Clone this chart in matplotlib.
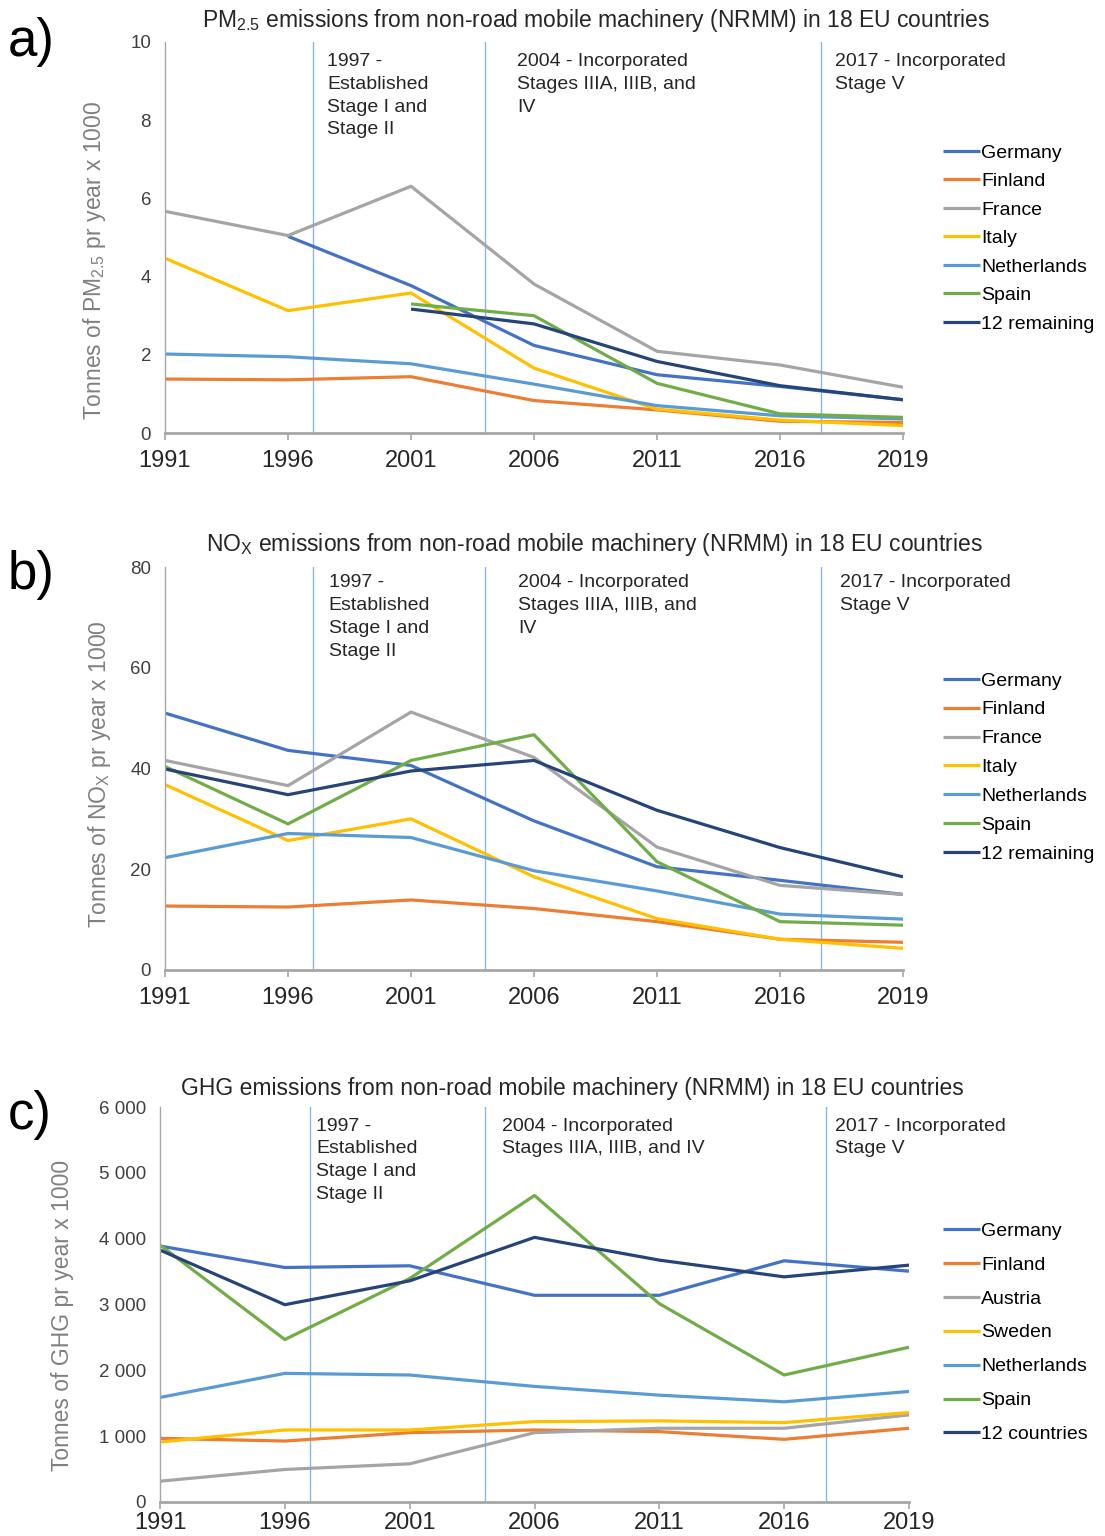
import numpy as np
import matplotlib.pyplot as plt

plt.rcParams['font.family'] = ['Liberation Sans', 'DejaVu Sans']
plt.rcParams['mathtext.default'] = 'regular'

nan = np.nan
years = [1991, 1996, 2001, 2006, 2011, 2016, 2019]
year_labels = ['1991', '1996', '2001', '2006', '2011', '2016', '2019']

# panel a) PM2.5, tonnes x 1000
pm_names = ['Germany', 'Finland', 'France', 'Italy', 'Netherlands', 'Spain', '12 remaining']
pm_germany = [nan, 5.03, 3.77, 2.24, 1.49, 1.19, 0.85]
pm_finland = [1.38, 1.36, 1.44, 0.83, 0.59, 0.30, 0.27]
pm_france = [5.67, 5.05, 6.31, 3.81, 2.09, 1.74, 1.17]
pm_italy = [4.47, 3.13, 3.58, 1.66, 0.61, 0.33, 0.19]
pm_netherlands = [2.02, 1.95, 1.77, 1.25, 0.70, 0.44, 0.36]
pm_spain = [nan, nan, 3.30, 3.00, 1.27, 0.49, 0.40]
pm_remaining = [nan, nan, 3.17, 2.79, 1.83, 1.21, 0.85]

# panel b) NOx, tonnes x 1000
nox_names = ['Germany', 'Finland', 'France', 'Italy', 'Netherlands', 'Spain', '12 remaining']
nox_germany = [51.0, 43.6, 40.6, 29.6, 20.5, 17.8, 15.0]
nox_finland = [12.7, 12.5, 13.9, 12.2, 9.6, 6.1, 5.5]
nox_france = [41.6, 36.6, 51.2, 42.2, 24.4, 16.8, 15.0]
nox_italy = [36.8, 25.7, 30.0, 18.5, 10.2, 6.1, 4.3]
nox_netherlands = [22.3, 27.1, 26.3, 19.7, 15.7, 11.1, 10.1]
nox_spain = [40.4, 29.0, 41.6, 46.7, 21.5, 9.6, 8.9]
nox_remaining = [39.9, 34.8, 39.5, 41.6, 31.7, 24.3, 18.5]

# panel c) GHG, tonnes x 1000
ghg_names = ['Germany', 'Finland', 'Austria', 'Sweden', 'Netherlands', 'Spain', '12 countries']
ghg_germany = [3888, 3562, 3588, 3140, 3140, 3664, 3506]
ghg_finland = [967, 926, 1053, 1094, 1069, 952, 1120]
ghg_austria = [316, 494, 580, 1053, 1120, 1120, 1323]
ghg_sweden = [911, 1094, 1094, 1221, 1232, 1206, 1359]
ghg_netherlands = [1588, 1954, 1929, 1756, 1623, 1522, 1679]
ghg_spain = [3903, 2468, 3394, 4656, 3013, 1929, 2351]
ghg_countries = [3827, 2997, 3359, 4020, 3674, 3420, 3598]

event_years = [1997, 2004, 2017]
event_texts = ['1997 -\nEstablished\nStage I and\nStage II',
               '2004 - Incorporated\nStages IIIA, IIIB, and\nIV',
               '2017 - Incorporated\nStage V']
event_texts_c = ['1997 -\nEstablished\nStage I and\nStage II',
                 '2004 - Incorporated\nStages IIIA, IIIB, and IV',
                 '2017 - Incorporated\nStage V']

colors = ['#4472c4', '#ed7d31', '#a5a5a5', '#ffc000', '#5b9bd5', '#70ad47', '#264478']

fig = plt.figure(figsize=(11.05, 15.36), dpi=100)
W, H = 1105, 1536


def px_axes(left, right, top, bottom):
    return fig.add_axes([left / W, 1 - bottom / H, (right - left) / W, (bottom - top) / H])


def draw_panel(ax, series, names, ymax, ystep, yfmt, texts, text_x, text_top,
               title, title_x, title_y, ylabel, ylabel_x, ylabel_y, letter, letter_y,
               leg_top, leg_space, xpad=7):
    x = np.arange(len(years))
    for vals, name, c in zip(series, names, colors):
        ax.plot(x, vals, color=c, lw=2.3, label=name, solid_capstyle='butt')
    for ey in event_years:
        ax.axvline(np.interp(ey, years, x), color='#8eb4e3', lw=1.0, zorder=0)
    for t, tx in zip(texts, text_x):
        ax.text(tx, text_top, t, fontsize=14, color='#262626', va='top', ha='left',
                linespacing=1.45)
    ax.set_xlim(0, 6)
    ax.set_ylim(0, ymax)
    ax.set_xticks(x)
    ax.set_xticklabels(year_labels, fontsize=17, color='#262626')
    yt = np.arange(0, ymax + ystep / 2, ystep)
    ax.set_yticks(yt)
    ax.set_yticklabels([yfmt(v) for v in yt], fontsize=13.5, color='#404040')
    ax.tick_params(axis='x', length=5, width=1.2, color='#a6a6a6', pad=xpad)
    ax.tick_params(axis='y', length=0, pad=10)
    for s in ['top', 'right']:
        ax.spines[s].set_visible(False)
    ax.spines['bottom'].set_color('#a6a6a6')
    ax.spines['bottom'].set_linewidth(2)
    ax.spines['left'].set_color('#a6a6a6')
    ax.spines['left'].set_linewidth(1)
    fig.text(title_x / W, 1 - title_y / H, title, fontsize=16.5, ha='center', va='center',
             color='#262626')
    fig.text(ylabel_x / W, 1 - ylabel_y / H, ylabel, fontsize=16.5, rotation=90,
             ha='center', va='center', color='#808080')
    fig.text(8 / W, 1 - letter_y / H, letter, fontsize=38, ha='left', va='center')
    ax.legend(loc='upper left', bbox_to_anchor=(943 / W, 1 - leg_top / H),
              bbox_transform=fig.transFigure, frameon=False, fontsize=14,
              handlelength=1.9, handletextpad=0.05, labelspacing=leg_space,
              borderpad=0, borderaxespad=0)


ax1 = px_axes(165, 903, 42, 433)
draw_panel(ax1,
           [pm_germany, pm_finland, pm_france, pm_italy, pm_netherlands, pm_spain, pm_remaining],
           pm_names, 10, 2, lambda v: f'{v:.0f}', event_texts, [1.32, 2.86, 5.45], 9.72,
           'PM$_{2.5}$ emissions from non-road mobile machinery (NRMM) in 18 EU countries',
           596, 20, 'Tonnes of PM$_{2.5}$ pr year x 1000', 95, 260, 'a)', 42, 144, 0.56)

ax2 = px_axes(165, 903, 567, 970)
draw_panel(ax2,
           [nox_germany, nox_finland, nox_france, nox_italy, nox_netherlands, nox_spain, nox_remaining],
           nox_names, 80, 20, lambda v: f'{v:.0f}', event_texts, [1.33, 2.87, 5.49], 78.6,
           'NO$_X$ emissions from non-road mobile machinery (NRMM) in 18 EU countries',
           594, 545, 'Tonnes of NO$_X$ pr year x 1000', 100, 774, 'b)', 575, 672, 0.58)

ax3 = px_axes(160, 909, 1107, 1502)
draw_panel(ax3,
           [ghg_germany, ghg_finland, ghg_austria, ghg_sweden, ghg_netherlands, ghg_spain, ghg_countries],
           ghg_names, 6000, 1000, lambda v: f'{int(v):,}'.replace(',', ' '), event_texts_c,
           [1.25, 2.74, 5.41], 5840,
           'GHG emissions from non-road mobile machinery (NRMM) in 18 EU countries',
           572, 1089, 'Tonnes of GHG pr year x 1000', 63, 1315, 'c)', 1115, 1222, 0.84,
           xpad=2)

fig.savefig('out.png', dpi=100)
